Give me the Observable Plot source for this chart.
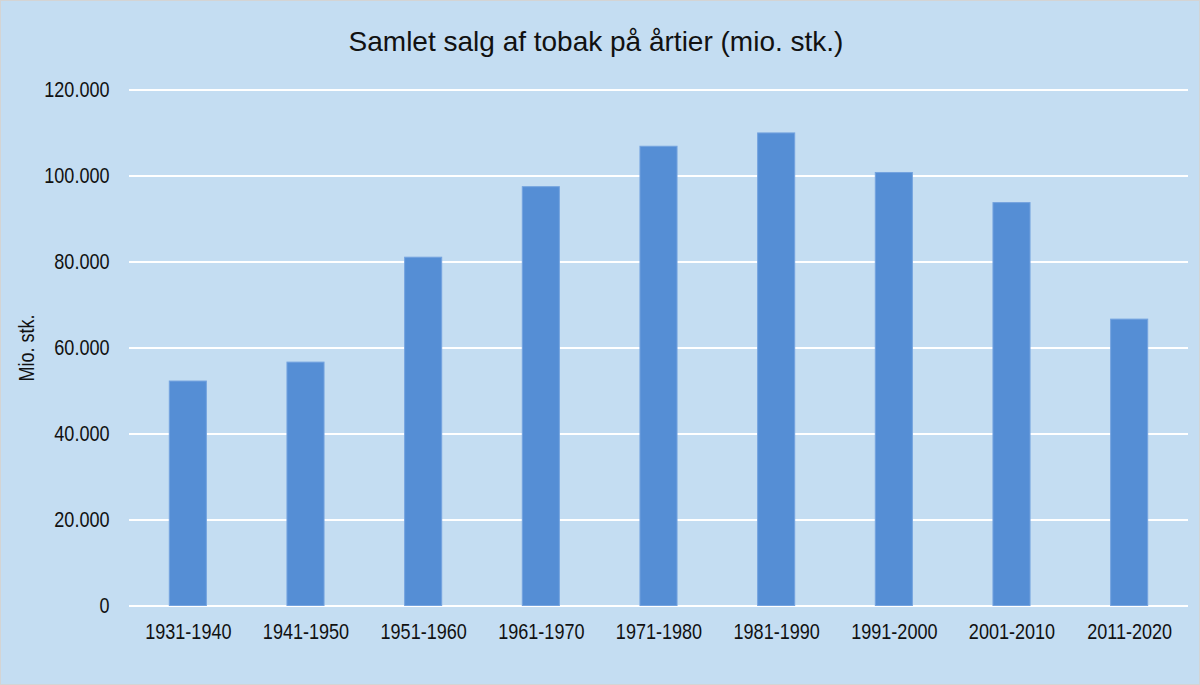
<!DOCTYPE html>
<html>
<head>
<meta charset="utf-8">
<script src="https://cdn.jsdelivr.net/npm/d3@7"></script>
<script src="https://cdn.jsdelivr.net/npm/@observablehq/plot@0.6"></script>
<style>
  html, body { margin: 0; padding: 0; background: #fff; }
  #wrap {
    position: relative; width: 1200px; height: 685px;
    background: #c4ddf2; box-shadow: inset 0 0 0 1px #d4d4d4; overflow: hidden;
    font-family: "Liberation Sans", Arial, sans-serif;
  }
  #title {
    position: absolute; left: 0; top: 28px; width: 1192px; text-align: center;
    font-size: 28px; line-height: 28px; color: #111;
  }
  #chart { position: absolute; left: 0; top: 70px; }
</style>
</head>
<body>
<div id="wrap">
  <div id="title">Samlet salg af tobak på årtier (mio. stk.)</div>
  <div id="chart"></div>
</div>
<script>
const decades = ["1931-1940","1941-1950","1951-1960","1961-1970","1971-1980","1981-1990","1991-2000","2001-2010","2011-2020"];
const sales = [52200, 56600, 81000, 97400, 106800, 109900, 100700, 93700, 66600];
const yTicks = [0, 20000, 40000, 60000, 80000, 100000, 120000];
const yLabel = "Mio. stk.";

const data = decades.map((d, i) => ({decade: d, value: sales[i]}));
const fmt = v => v === 0 ? "0" : d3.format(",")(v).replace(/,/g, ".");

const plot = Plot.plot({
  width: 1200,
  height: 615,
  marginLeft: 129,
  marginRight: 12,
  marginTop: 19.5,
  marginBottom: 79.5,
  style: {background: "transparent", fontFamily: "Liberation Sans, Arial, sans-serif", fontSize: "22px", color: "#111"},
  x: {domain: decades, paddingInner: 0.685, paddingOuter: 0.3425, round: false, label: null},
  y: {domain: [0, 120000], label: null},
  marks: [
    Plot.ruleY(yTicks, {stroke: "#ffffff", strokeWidth: 2.2}),
    Plot.barY(data, {x: "decade", y: "value", fill: "#558ed5", stroke: "#74a3df", strokeWidth: 1}),
    Plot.axisY({ticks: yTicks, tickFormat: fmt, tickSize: 0, tickPadding: 20, label: null}),
    Plot.axisX({tickSize: 0, tickPadding: 17, label: null}),
    Plot.text([yLabel], {frameAnchor: "left", dx: -103, rotate: -90, text: d => d, textAnchor: "middle", lineAnchor: "middle", fontSize: 22, fill: "#111"})
  ]
});
document.getElementById("chart").appendChild(plot);

// Axis text in the reference is a narrow face: compress glyphs horizontally.
plot.querySelectorAll("text").forEach(t => {
  const len = t.getComputedTextLength();
  if (len > 0) {
    t.setAttribute("textLength", (len * 0.82).toFixed(1));
    t.setAttribute("lengthAdjust", "spacingAndGlyphs");
  }
});
</script>
</body>
</html>
